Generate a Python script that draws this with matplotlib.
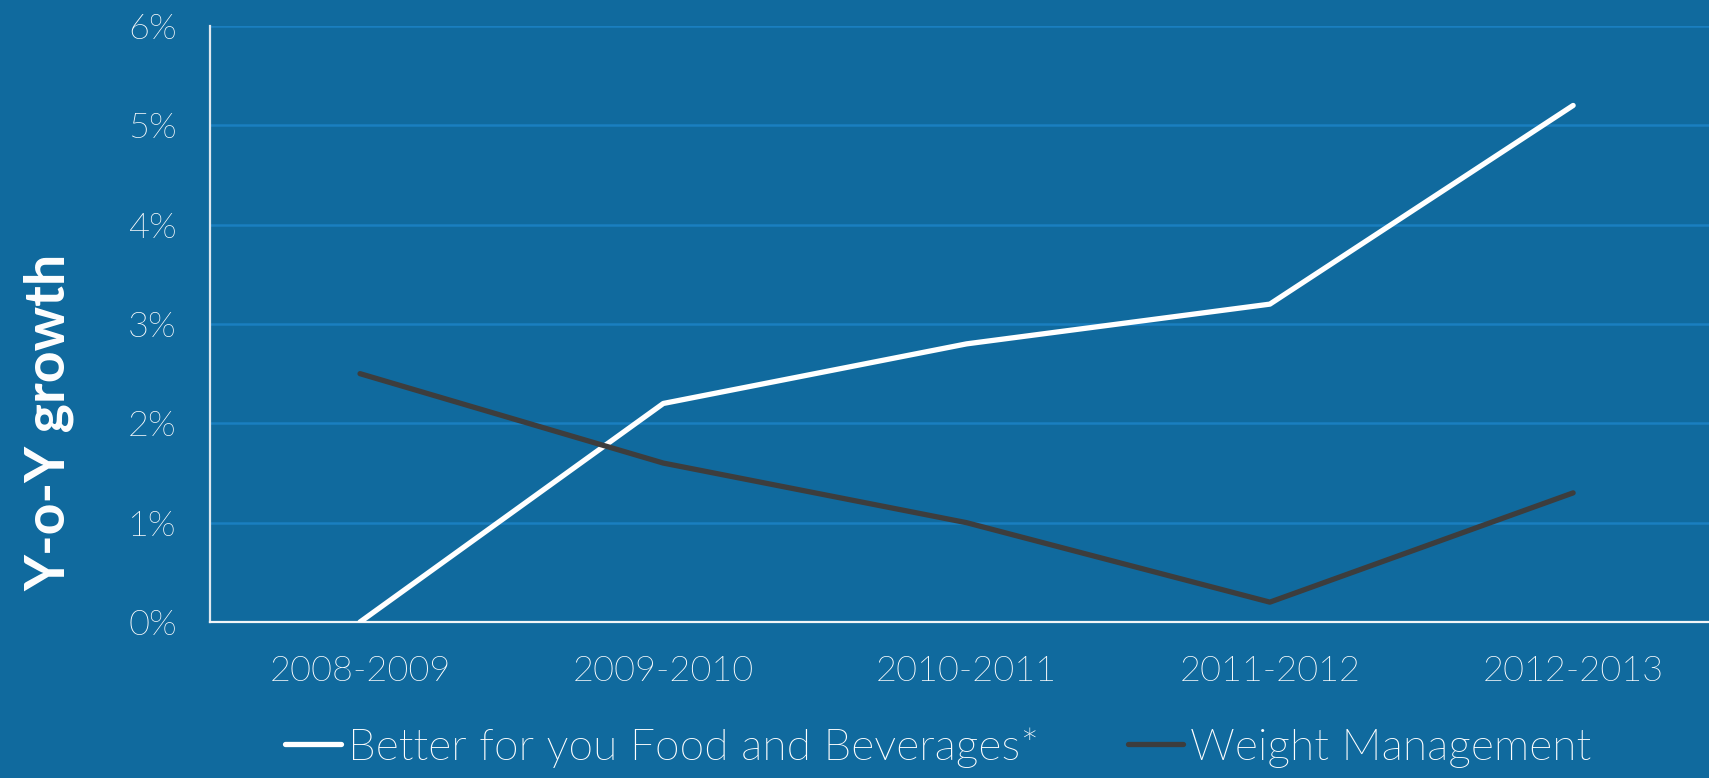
import matplotlib.pyplot as plt
from matplotlib import font_manager
from matplotlib.ticker import FuncFormatter

periods = ['2008-2009', '2009-2010', '2010-2011', '2011-2012', '2012-2013']
better_for_you = [0.0, 2.2, 2.8, 3.2, 5.2]
weight_mgmt = [2.5, 1.6, 1.0, 0.2, 1.3]

bg = '#106a9e'
grid_blue = '#1a7fc0'
dark = '#3d3d3d'

plt.rcParams['font.family'] = ['Lato', 'DejaVu Sans']

# pick the Lato Light face directly, the 'light' weight lookup lands on Hairline
light_file = None
for f in font_manager.fontManager.ttflist:
    fn = f.fname.lower()
    if f.name == 'Lato' and 'light' in fn and 'italic' not in fn:
        light_file = f.fname
        break


def light(size):
    if light_file:
        return font_manager.FontProperties(fname=light_file, size=size)
    return font_manager.FontProperties(family='Lato', size=size)


fig = plt.figure(figsize=(17.09, 7.78), dpi=100, facecolor=bg)
ax = fig.add_axes([0.1229, 0.2005, 1 - 0.1229, 0.7661])
ax.set_facecolor(bg)

x = range(len(periods))
ax.plot(x, better_for_you, color='white', lw=3.8, solid_capstyle='round',
        label='Better for you Food and Beverages*', zorder=3)
ax.plot(x, weight_mgmt, color=dark, lw=3.8, solid_capstyle='round',
        label='Weight Management', zorder=3)

ax.set_xlim(-0.4946, 4.448)
ax.set_ylim(0, 6)
ax.set_xticks(list(x))
ax.set_xticklabels(periods)
ax.set_yticks(range(0, 7))
ax.yaxis.set_major_formatter(FuncFormatter(lambda v, p: f'{v:.0f}%'))

# horizontal gridlines, lighter blue
for v in range(1, 7):
    ax.axhline(v, color=grid_blue, lw=1.8, zorder=1)

for side in ['top', 'right']:
    ax.spines[side].set_visible(False)
ax.spines['left'].set_color('#dfe8ef')
ax.spines['left'].set_linewidth(1.6)
ax.spines['bottom'].set_color('#f2f5f8')
ax.spines['bottom'].set_linewidth(1.6)

ax.tick_params(axis='both', length=0, colors='white')
ax.tick_params(axis='y', pad=24)
ax.tick_params(axis='x', pad=24)
for lbl in ax.get_xticklabels() + ax.get_yticklabels():
    lbl.set_fontproperties(light(26))

fig.text(0.029, 0.457, 'Y-o-Y growth', rotation=90, color='white',
         fontsize=40, fontweight='bold', ha='center', va='center')

leg = fig.legend(loc='center', bbox_to_anchor=(0.549, 0.039), ncol=2, frameon=False,
                 handlelength=1.25, handletextpad=0.15, columnspacing=2.0,
                 prop=light(32))
for t in leg.get_texts():
    t.set_color('white')

fig.savefig('out.png', dpi=100, facecolor=bg)
